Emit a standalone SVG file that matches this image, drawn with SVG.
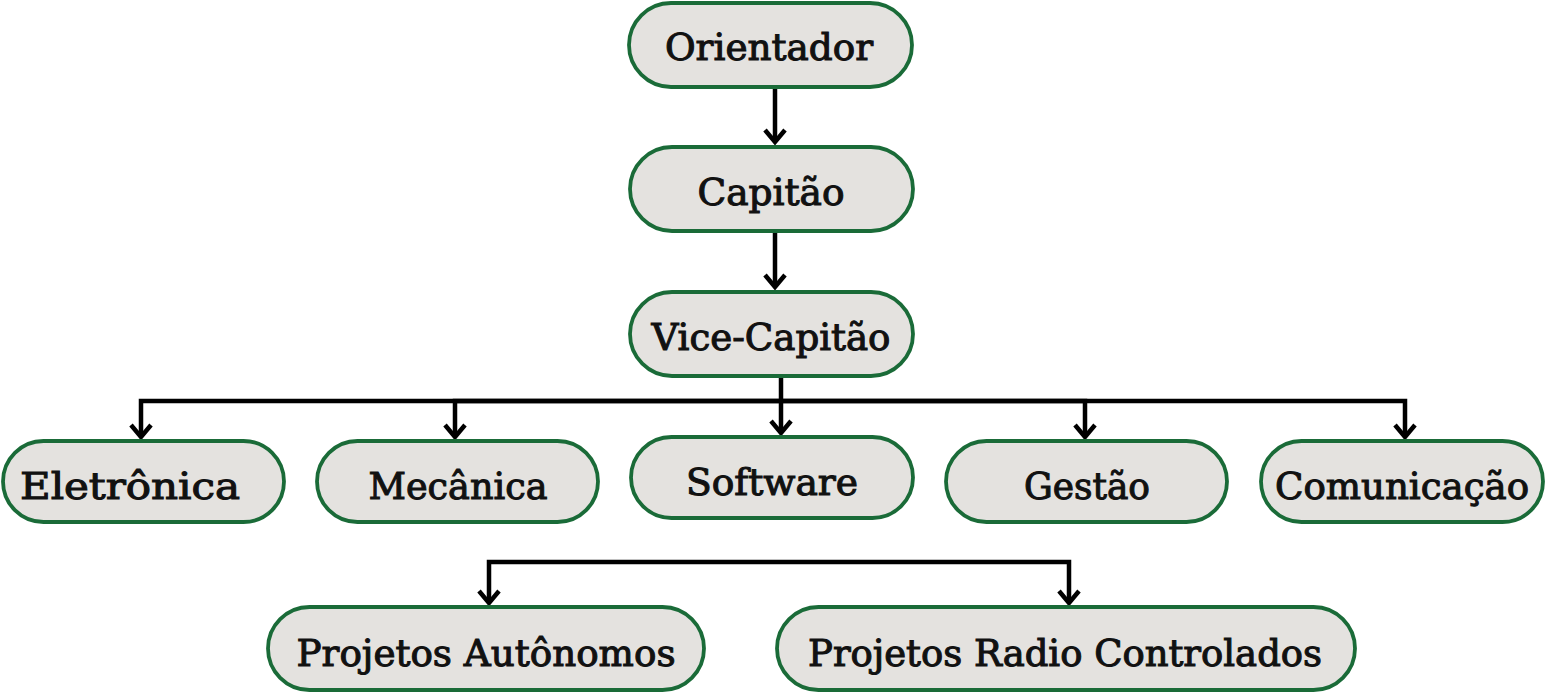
<svg xmlns="http://www.w3.org/2000/svg" width="1547" height="695" viewBox="0 0 1547 695">
  <style>
    .node rect { fill: #e4e2df; stroke: #1a6b38; stroke-width: 3.8; }
    .node text { font-family: "DejaVu Serif Condensed", "DejaVu Serif", serif; font-size: 38px; font-weight: normal; fill: #111; stroke: #111; stroke-width: 1; text-anchor: middle; }
    .conn path { fill: none; stroke: #000; stroke-width: 4.5; stroke-linejoin: miter; }
  </style>
  <defs>
    <marker id="arr" markerUnits="userSpaceOnUse" viewBox="-16 -13 20 26" refX="0" refY="0" markerWidth="20" markerHeight="26" orient="auto-start-reverse" overflow="visible">
      <path d="M-12,-10 L0,0 L-12,10" fill="none" stroke="#000" stroke-width="4.5" stroke-linejoin="miter"/>
    </marker>
  </defs>
  <rect width="1547" height="695" fill="#fff"/>

  <g class="conn" id="connectors">
    <path d="M775,87 V142" marker-end="url(#arr)"/>
    <path d="M775,232 V287" marker-end="url(#arr)"/>
    <path d="M781,376 V433" marker-end="url(#arr)"/>
    <path d="M781,401 H141 V437" marker-end="url(#arr)"/>
    <path d="M781,401 H455 V437" marker-end="url(#arr)"/>
    <path d="M781,401 H1085 V437" marker-end="url(#arr)"/>
    <path d="M781,401 H1405 V437" marker-end="url(#arr)"/>
    <path d="M489,603 V562 H1069 V603" marker-start="url(#arr)" marker-end="url(#arr)"/>
  </g>

  <g class="node" id="orientador">
    <rect x="629" y="3" width="283" height="84" rx="42"/>
    <text x="769" y="60" textLength="208" lengthAdjust="spacingAndGlyphs">Orientador</text>
  </g>
  <g class="node" id="capitao">
    <rect x="630" y="147" width="283" height="84" rx="42"/>
    <text x="771" y="205" textLength="147" lengthAdjust="spacingAndGlyphs">Capitão</text>
  </g>
  <g class="node" id="vice-capitao">
    <rect x="630" y="292" width="283" height="84" rx="42"/>
    <text x="771" y="350" textLength="239" lengthAdjust="spacingAndGlyphs">Vice-Capitão</text>
  </g>
  <g class="node" id="eletronica">
    <rect x="3" y="441" width="281" height="81" rx="40.5"/>
    <text x="130" y="499" textLength="220" lengthAdjust="spacingAndGlyphs">Eletrônica</text>
  </g>
  <g class="node" id="mecanica">
    <rect x="317" y="441" width="281" height="81" rx="40.5"/>
    <text x="458" y="499" textLength="179" lengthAdjust="spacingAndGlyphs">Mecânica</text>
  </g>
  <g class="node" id="software">
    <rect x="631" y="437" width="282" height="81" rx="40.5"/>
    <text x="772" y="495" textLength="172" lengthAdjust="spacingAndGlyphs">Software</text>
  </g>
  <g class="node" id="gestao">
    <rect x="946" y="441" width="281" height="81" rx="40.5"/>
    <text x="1087" y="499" textLength="126" lengthAdjust="spacingAndGlyphs">Gestão</text>
  </g>
  <g class="node" id="comunicacao">
    <rect x="1261" y="441" width="282" height="81" rx="40.5"/>
    <text x="1402" y="499" textLength="254" lengthAdjust="spacingAndGlyphs">Comunicação</text>
  </g>
  <g class="node" id="projetos-autonomos">
    <rect x="268" y="607" width="436" height="83" rx="41.5"/>
    <text x="486" y="666" textLength="379" lengthAdjust="spacingAndGlyphs">Projetos Autônomos</text>
  </g>
  <g class="node" id="projetos-radio-controlados">
    <rect x="777" y="607" width="578" height="83" rx="41.5"/>
    <text x="1065" y="666" textLength="514" lengthAdjust="spacingAndGlyphs">Projetos Radio Controlados</text>
  </g>
</svg>
